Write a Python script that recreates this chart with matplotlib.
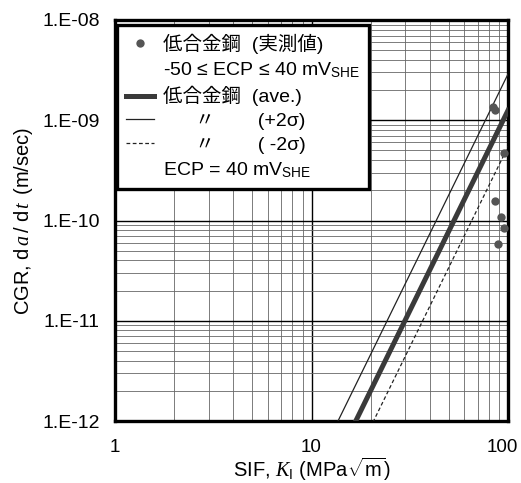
import numpy as np
import matplotlib.pyplot as plt
from matplotlib.lines import Line2D
from matplotlib.ticker import LogLocator, FixedLocator, FuncFormatter
from matplotlib.transforms import ScaledTranslation

plt.rcParams['font.family'] = ['Liberation Sans', 'Noto Sans CJK JP', 'DejaVu Sans']
plt.rcParams['mathtext.fontset'] = 'custom'
plt.rcParams['mathtext.rm'] = 'Liberation Sans'
plt.rcParams['mathtext.it'] = 'Liberation Serif:italic'
plt.rcParams['mathtext.bf'] = 'Liberation Sans:bold'

# measured crack growth rates, low alloy steel
sif_meas = [84.2, 85.9, 95.4, 85.9, 92.1, 95.4, 88.9]
cgr_meas = [1.37e-9, 1.26e-9, 4.75e-10, 1.57e-10, 1.09e-10, 8.4e-11, 5.8e-11]

# disposition curve da/dt = C * K^n (ECP = 40 mV SHE)
coef_ave = 1.255e-17
exponent = 4.0
scatter_2sigma = 2.3

k = np.logspace(0, 2, 200)
cgr_ave = coef_ave * k ** exponent
cgr_hi = cgr_ave * scatter_2sigma
cgr_lo = cgr_ave / scatter_2sigma

fig = plt.figure(figsize=(5.21, 4.83), dpi=100)
ax = fig.add_axes([115 / 521, 1 - 421 / 483, 393 / 521, 401 / 483])

ax.set_xscale('log')
ax.set_yscale('log')
ax.set_xlim(1, 100)
ax.set_ylim(1e-12, 1e-8)

ax.plot(k, cgr_hi, color='#222222', lw=0.9, zorder=3)
ax.plot(k, cgr_ave, color='#3a3a3a', lw=3.6, zorder=3)
ax.plot(k, cgr_lo, color='#222222', lw=0.9, ls=(0, (3, 2)), zorder=3)
ax.plot(sif_meas, cgr_meas, 'o', color='#555555', ms=6, mec='none', zorder=4, clip_on=False)

ax.xaxis.set_major_locator(FixedLocator([1, 10, 100]))
ax.xaxis.set_minor_locator(LogLocator(base=10, subs=np.arange(2, 10)))
ax.yaxis.set_major_locator(FixedLocator([1e-12, 1e-11, 1e-10, 1e-9, 1e-8]))
ax.yaxis.set_minor_locator(LogLocator(base=10, subs=np.arange(2, 10)))
ax.xaxis.set_major_formatter(FuncFormatter(lambda v, p: '%d' % round(v)))
ax.yaxis.set_major_formatter(FuncFormatter(lambda v, p: '1.E%03d' % round(np.log10(v))))
ax.xaxis.set_minor_formatter(FuncFormatter(lambda v, p: ''))
ax.yaxis.set_minor_formatter(FuncFormatter(lambda v, p: ''))

ax.grid(True, which='major', color='black', lw=1.0)
ax.grid(True, which='minor', color='#666666', lw=0.6)
ax.set_axisbelow(True)
ax.tick_params(which='both', length=0, labelsize=14)
ax.tick_params(axis='x', labelsize=13.5)
ax.tick_params(axis='y', pad=11)
ax.tick_params(axis='x', pad=13)
for s in ax.spines.values():
    s.set_linewidth(2.4)

ax.set_xlabel(r'SIF, $K_{\mathrm{I}}$ (MPa$\sqrt{\mathrm{m}}$)', fontsize=14.5, labelpad=0)
ax.set_ylabel(r'CGR, d$\,a\,$/ d$\,t\,$ (m/sec)', fontsize=14.5, labelpad=5)

blank = Line2D([], [], ls='none')
handles = [
    Line2D([], [], ls='none', marker='o', color='#555555', ms=6, mec='none'),
    blank,
    Line2D([], [], color='#3a3a3a', lw=3.6),
    Line2D([], [], color='#222222', lw=0.9),
    Line2D([], [], color='#222222', lw=0.9, ls=(0, (3, 2))),
    blank,
]
labels = [
    '低合金鋼  (実測値)',
    r'-50 ≤ ECP ≤ 40 mV$_{\mathrm{SHE}}$',
    '低合金鋼  (ave.)',
    '      〃        (+2σ)',
    '      〃        ( -2σ)',
    r'ECP = 40 mV$_{\mathrm{SHE}}$',
]
leg = ax.legend(handles, labels, loc='upper left', bbox_to_anchor=(0.005, 0.988),
                borderaxespad=0, fontsize=14, handlelength=1.45, handletextpad=0.45,
                labelspacing=0.32, borderpad=0.45, fancybox=False, framealpha=1,
                edgecolor='black')
leg.get_frame().set_linewidth(2.4)
leg.set_zorder(5)

# pull the "100" label a little inward so it stays on the canvas
fig.canvas.draw()
last = ax.xaxis.get_major_ticks()[-1].label1
last.set_transform(last.get_transform() + ScaledTranslation(-4 / 72, 0, fig.dpi_scale_trans))

fig.savefig('out.png', dpi=100)
